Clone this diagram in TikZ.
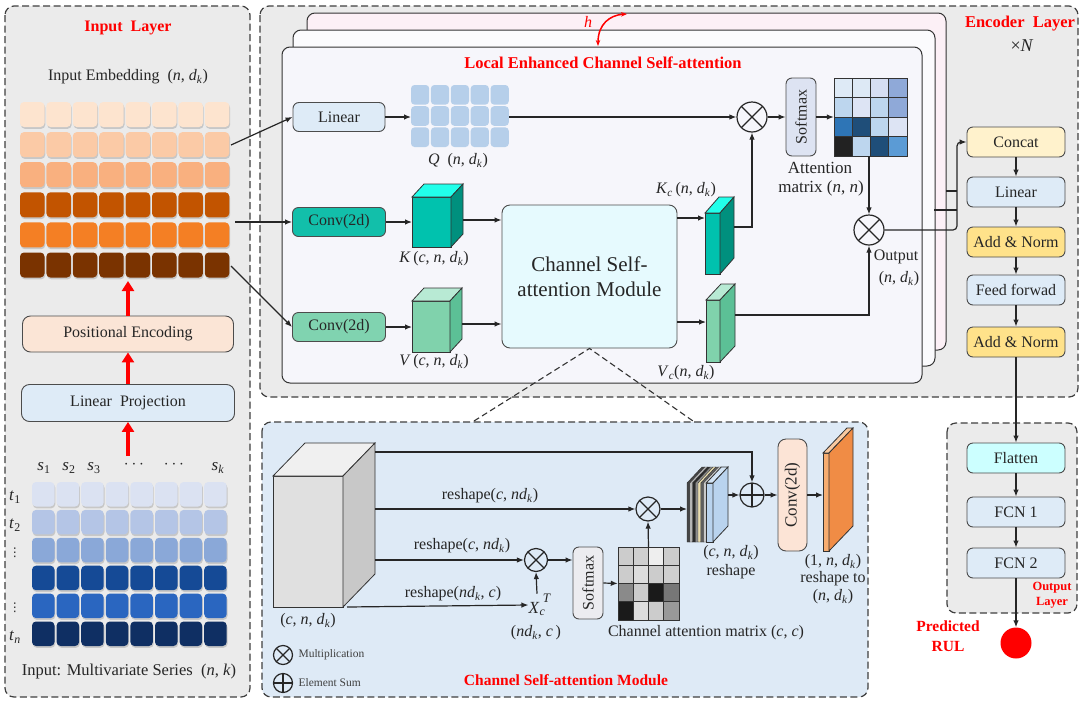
\documentclass[tikz,border=0pt]{standalone}
\usepackage{fontspec}
\usepackage{graphicx}
\setmainfont{Liberation Serif}
\newfontfamily\dejavu{DejaVu Sans}
\usetikzlibrary{arrows.meta,calc}
\definecolor{panelgray}{HTML}{EBEBEB}
\definecolor{csbg}{HTML}{DEEAF6}
\definecolor{lblue}{HTML}{DEEBF7}
\definecolor{peach}{HTML}{FBE5D6}
\definecolor{cream}{HTML}{FFF2CC}
\definecolor{ylw}{HTML}{FFE28A}
\definecolor{cyanbox}{HTML}{CCFFFF}
\definecolor{csamfill}{HTML}{E6FAFE}
\definecolor{convK}{HTML}{12BFAA}
\definecolor{convV}{HTML}{80D3B0}
\definecolor{tealF}{HTML}{00C2AE}
\definecolor{tealT}{HTML}{22FFEA}
\definecolor{tealS}{HTML}{00907E}
\definecolor{mintF}{HTML}{80D2AC}
\definecolor{mintT}{HTML}{B8EAD4}
\definecolor{mintS}{HTML}{5CC096}
\definecolor{grF}{HTML}{E0E0E0}
\definecolor{grT}{HTML}{F0F0F0}
\definecolor{grS}{HTML}{C8C8C8}
\definecolor{orF}{HTML}{F7AD70}
\definecolor{orT}{HTML}{F9C9A0}
\definecolor{orS}{HTML}{F08C45}
\definecolor{bcF}{HTML}{B9D3EE}
\definecolor{bcT}{HTML}{D3E4F5}
\definecolor{convC}{HTML}{FCE4D6}
\definecolor{smx}{HTML}{DDE3F2}
\definecolor{smxb}{HTML}{ECECF0}
\definecolor{qblue}{HTML}{B6CFEA}
\definecolor{sheetback}{HTML}{FCF0F6}
\definecolor{sheetmid}{HTML}{FBFBFD}
\definecolor{sheetfront}{HTML}{F6F6FB}
\definecolor{ce1}{HTML}{FDE4CF}
\definecolor{ce2}{HTML}{FBCAA6}
\definecolor{ce3}{HTML}{F9B07F}
\definecolor{ce4}{HTML}{C25400}
\definecolor{ce5}{HTML}{F47F24}
\definecolor{ce6}{HTML}{7A3300}
\definecolor{cs1}{HTML}{DBE2F2}
\definecolor{cs2}{HTML}{B4C5E6}
\definecolor{cs3}{HTML}{8AA8D8}
\definecolor{cs4}{HTML}{154A96}
\definecolor{cs5}{HTML}{2A66C0}
\definecolor{cs6}{HTML}{0F2F63}
\newcommand{\fsz}[2]{\fontsize{#1}{#2}\selectfont}
\newcommand{\mydk}{\textit{d}\textsubscript{\textit{k}}}
% front top-left (#1,#2), front bottom-right (#3,#4), depth right #5 up #6, colours front/top/side
\newcommand{\drawcube}[9]{%
  \filldraw[fill=#7, draw=black!80, line width=0.8pt] (#1,#2) rectangle (#3,#4);
  \filldraw[fill=#8, draw=black!80, line width=0.8pt] (#1,#2) -- (#1+#5,#2-#6) -- (#3+#5,#2-#6) -- (#3,#2) -- cycle;
  \filldraw[fill=#9, draw=black!80, line width=0.8pt] (#3,#2) -- (#3+#5,#2-#6) -- (#3+#5,#4-#6) -- (#3,#4) -- cycle;
}
\begin{document}
\begin{tikzpicture}[x=1pt,y=-1pt, font=\fsz{16}{19}, text=black!85,
  panel/.style={draw=black!75, line width=1.2pt, dash pattern=on 7pt off 3.5pt, rounded corners=9pt},
  sheet/.style={draw=black!80, line width=1pt, rounded corners=8pt},
  box/.style={draw=black!70, line width=0.9pt, rounded corners=6pt, inner sep=1pt},
  arr/.style={-{Latex[length=7pt,width=5.5pt]}, line width=1.2pt, draw=black!85},
  ln/.style={line width=1.2pt, draw=black!85},
  redarr/.style={-{Triangle[length=10pt,width=12pt]}, line width=3.2pt, draw=red},
  redt/.style={text=red, font=\bfseries\fsz{16}{19}},
  mult/.style={circle, draw=black!85, line width=1.2pt, inner sep=0pt,
    path picture={\draw[line width=1.1pt, black!85] (path picture bounding box.south west) -- (path picture bounding box.north east) (path picture bounding box.north west) -- (path picture bounding box.south east);}},
  plus/.style={circle, draw=black!85, line width=1.2pt, inner sep=0pt,
    path picture={\draw[line width=1.1pt, black!85] (path picture bounding box.south) -- (path picture bounding box.north) (path picture bounding box.west) -- (path picture bounding box.east);}},
  dashln/.style={line width=1.1pt, draw=black!80, dash pattern=on 6pt off 3.5pt}
]
\useasboundingbox (0,0) rectangle (1080,702);
\fill[white] (0,0) rectangle (1080,702);

%% ================= INPUT LAYER =================
\filldraw[panel, fill=panelgray] (5,6) rectangle (250,697);
\node[redt] (tin) at (128,28) {Input\ \ Layer};
\node (emblab) at (128,77) {Input Embedding\ \ (\textit{n}, \mydk)};
\foreach \c [count=\r from 0] in {ce1,ce2,ce3,ce4,ce5,ce6}{
  \foreach \i in {0,...,7}{
    \fill[black, opacity=0.15, rounded corners=4pt] ({20.8+26.4*\i},{103.8+30.1*\r}) rectangle ++(24.5,25);
    \fill[\c, rounded corners=4pt] ({20+26.4*\i},{102+30.1*\r}) rectangle ++(24.5,25);
  }}
\coordinate (emb2) at (231,145);
\coordinate (emb4) at (235,222);
\coordinate (emb6) at (231,266);
\coordinate (embBot) at (128,281);
\node[box, fill=peach, minimum width=211, minimum height=36, rounded corners=8pt] (pos) at (128,334) {Positional Encoding};
\node[box, fill=lblue, minimum width=213, minimum height=37, rounded corners=8pt] (lp) at (128,403) {Linear\ \ Projection};
\coordinate (serTop) at (128,456);
\draw[redarr] (pos.north) -- (embBot);
\draw[redarr] (lp.north) -- (pos.south);
\draw[redarr] (serTop) -- (lp.south);

\begin{scope}[font=\fsz{17}{20}]
\node (s1) at (44,468) {\textit{s}\textsubscript{1}};
\node (s2) at (69,468) {\textit{s}\textsubscript{2}};
\node (s3) at (94,468) {\textit{s}\textsubscript{3}};
\node (sd1) at (134,465) {$\cdots$};
\node (sd2) at (174,465) {$\cdots$};
\node (sk) at (218,468) {\textit{s}\textsubscript{\textit{k}}};
\node[inner sep=0pt] (t1) at (15,497) {\textit{t}\textsubscript{1}};
\node[inner sep=0pt] (t2) at (15,525) {\textit{t}\textsubscript{2}};
\node[inner sep=0pt, font=\dejavu\fsz{12}{13}] (td1) at (15,553) {⋮};
\node[inner sep=0pt, font=\dejavu\fsz{12}{13}] (td2) at (15,608) {⋮};
\node[inner sep=0pt] (tn) at (15,637) {\textit{t}\textsubscript{\textit{n}}};
\end{scope}
\foreach \c [count=\r from 0] in {cs1,cs2,cs3,cs4,cs5,cs6}{
  \foreach \i in {0,...,7}{
    \fill[black, opacity=0.15, rounded corners=4pt] ({32.8+24.6*\i},{483.8+27.9*\r}) rectangle ++(22.5,24.5);
    \fill[\c, rounded corners=4pt] ({32+24.6*\i},{482+27.9*\r}) rectangle ++(22.5,24.5);
  }}
\node[font=\fsz{16.5}{19}] (serlab) at (129,672) {Input: Multivariate Series\ \ (\textit{n}, \textit{k})};

%% ================= ENCODER LAYER =================
\filldraw[panel, fill=panelgray] (260,6) rectangle (1078,397);
\node[redt, font=\bfseries\fsz{16.5}{19}] (tenc) at (1020,24) {Encoder\ \ Layer};
\node[font=\fsz{18}{20}] (tN) at (1022,46) {×\textit{N}};

\filldraw[sheet, fill=sheetback] (307,13) rectangle (946,350);
\filldraw[sheet, fill=sheetmid] (293,30) rectangle (935,366);
\filldraw[sheet, fill=sheetfront] (282,47) rectangle (922,383);

\node[text=red, font=\itshape\fsz{16}{18}] (hl) at (588,22) {h};
\coordinate (hA) at (598,46);
\coordinate (hB) at (627,14);
\draw[red, line width=1.5pt, {Stealth[length=6pt]}-{Stealth[length=6pt]}] (hA) .. controls (598,24) and (610,15) .. (hB);

\node[redt, font=\bfseries\fsz{16.5}{19}] (tlec) at (603,63) {Local Enhanced Channel Self-attention};

\node[box, fill=lblue, minimum width=92, minimum height=29] (lin1) at (339,117) {Linear};
\foreach \r in {0,1,2}{
  \foreach \i in {0,...,4}{
    \fill[qblue, rounded corners=3.5pt] ({411+19.9*\i},{85+21.2*\r}) rectangle ++(18.2,19.6);
  }}
\coordinate (qL) at (411,117);
\coordinate (qR) at (509,117);
\node (qlab) at (458,161) {\textit{Q}\ \ (\textit{n}, \mydk)};

\node[mult, minimum size=30] (m1) at (752,117) {};
\node[box, fill=smx, minimum width=30, minimum height=78, font=\fsz{16}{18}] (smx1) at (801,117) {\rotatebox{90}{Softmax}};
\node[minimum width=73, minimum height=78, inner sep=0pt] (att) at (870.5,117) {};
\foreach \col [count=\k from 0] in {DEEAF6,DDE9F5,D6DEF2,8FA9D8,BDD6EE,DDE4F4,BDD6EE,8FA9D8,2E75B6,1F4E79,BDD6EE,DDE4F4,222222,BDD6EE,1F4E79,5B9BD5}{
  \definecolor{tmpc}{HTML}{\col}
  \pgfmathtruncatemacro\rr{div(\k,4)}
  \pgfmathtruncatemacro\cc{mod(\k,4)}
  \filldraw[fill=tmpc, draw=black!80, line width=0.6pt] ({834+18.25*\cc},{78+19.5*\rr}) rectangle ++(18.25,19.5);
}
\node[font=\fsz{17}{19}] (attl1) at (820,168) {Attention};
\node[font=\fsz{17}{19}] (attl2) at (821,188) {matrix (\textit{n}, \textit{n})};

\draw[arr] (emb2) -- (lin1.west);
\draw[arr] (lin1.east) -- (qL);
\draw[arr] (qR) -- (m1.west);
\draw[arr] (m1.east) -- (smx1.west);
\draw[arr] (smx1.east) -- (att.west);

\node[mult, minimum size=30] (m2) at (869,230) {};
\draw[arr] (att.south -| m2) -- (m2.north);

\node[box, fill=convK, minimum width=93, minimum height=29] (conv1) at (339,222) {Conv(2d)};
\node[box, fill=convV, minimum width=93, minimum height=29] (conv2) at (339,327) {Conv(2d)};
\drawcube{412}{197}{451}{247}{12}{13}{tealF}{tealT}{tealS}
\drawcube{412}{301}{450}{352}{12}{13}{mintF}{mintT}{mintS}
\coordinate (kL) at (412,222);
\coordinate (kR) at (463,220);
\coordinate (vL) at (412,327);
\coordinate (vR) at (462,324);
\node (klab) at (434,259) {\textit{K}\,(\textit{c}, \textit{n}, \mydk)};
\node (vlab) at (434,362) {\textit{V}\,(\textit{c}, \textit{n}, \mydk)};
\draw[arr] (emb4) -- (conv1.west);
\draw[arr] (emb6) -- (conv2.west);
\draw[arr] (conv1.east) -- (kL);
\draw[arr] (conv2.east) -- (vL);

\node[box, fill=csamfill, minimum width=175, minimum height=143, rounded corners=8pt, align=center, font=\fsz{21}{25}] (csam) at (589.5,276.5) {Channel Self-\\attention Module};
\draw[arr] (kR) -- (kR -| csam.west);
\draw[arr] (vR) -- (vR -| csam.west);

\drawcube{705}{213}{720}{274}{14}{16}{tealF}{tealT}{tealS}
\drawcube{706}{300}{720}{362}{15}{16}{mintF}{mintT}{mintS}
\coordinate (kcL) at (705,218);
\coordinate (vcL) at (706,322);
\coordinate (kcR) at (734,227);
\coordinate (vcR) at (735,315);
\draw[arr] (csam.east |- kcL) -- (kcL);
\draw[arr] (csam.east |- vcL) -- (vcL);
\node (kclab) at (686,190) {\textit{K}\textsubscript{\textit{c}}\,(\textit{n}, \mydk)};
\node (vclab) at (686,373) {\textit{V}\textsubscript{\textit{c}}(\textit{n}, \mydk)};
\draw[arr] (kcR) -| (m1.south);
\draw[arr] (vcR) -| (m2.south);
\node (outl1) at (896,257) {Output};
\node (outl2) at (899,279) {(\textit{n}, \mydk)};

% right column
\node[box, fill=cream, minimum width=98, minimum height=30] (concat) at (1016,142) {Concat};
\node[box, fill=lblue, minimum width=98, minimum height=30] (lin2) at (1016,192) {Linear};
\node[box, fill=ylw, minimum width=98, minimum height=30] (an1) at (1016,242) {Add \& Norm};
\node[box, fill=lblue, minimum width=98, minimum height=30] (ff) at (1016,290) {Feed forwad};
\node[box, fill=ylw, minimum width=98, minimum height=30] (an2) at (1016,342) {Add \& Norm};
\coordinate (jx) at (957,142);
\draw[arr, rounded corners=4pt] (m2.east) -| (jx) -- (concat.west);
\coordinate (hb1) at (946,191);
\coordinate (hb2) at (934,210);
\draw[ln] (hb1) -- (hb1 -| jx);
\draw[ln] (hb2) -- (hb2 -| jx);
\draw[arr] (concat.south) -- (lin2.north);
\draw[arr] (lin2.south) -- (an1.north);
\draw[arr] (an1.south) -- (ff.north);
\draw[arr] (ff.south) -- (an2.north);

%% ================= OUTPUT LAYER =================
\filldraw[panel, fill=panelgray] (947,423) rectangle (1077,613);
\node[box, fill=cyanbox, minimum width=98, minimum height=30] (flat) at (1016,458) {Flatten};
\node[box, fill=lblue, minimum width=98, minimum height=30] (fcn1) at (1016,512) {FCN 1};
\node[box, fill=lblue, minimum width=98, minimum height=30] (fcn2) at (1016,563) {FCN 2};
\draw[arr] (an2.south) -- (flat.north);
\draw[arr] (flat.south) -- (fcn1.north);
\draw[arr] (fcn1.south) -- (fcn2.north);
\node[redt, font=\bfseries\fsz{12.5}{15}, align=center] (tout) at (1052,595) {Output\\Layer};
\node[circle, fill=red, minimum size=31, inner sep=0pt] (rul) at (1016,643) {};
\draw[arr] (fcn2.south) -- (rul.north);
\node[redt, font=\bfseries\fsz{15.5}{20}, align=center] (trul) at (948,636) {Predicted\\RUL};

%% ================= CHANNEL SELF-ATTENTION MODULE =================
\filldraw[panel, fill=csbg] (262,422) rectangle (868,697);
\coordinate (dl) at (474,421);
\coordinate (dr) at (693,421);
\draw[dashln] (dl) -- (csam.south) -- (dr);

\drawcube{273}{476}{343}{607}{32}{33}{grF}{grT}{grS}
\node (cublab) at (308,621) {(\textit{c}, \textit{n}, \mydk)};
\coordinate (c1) at (375,452);
\coordinate (c2) at (375,509);
\coordinate (c3) at (375,560);
\coordinate (c4) at (347,607);

\node[plus, minimum size=24] (p1) at (752,495) {};
\node[mult, minimum size=24] (m3) at (648,509) {};
\node[mult, minimum size=23] (m4) at (536,560) {};
\node[inner sep=0pt, font=\fsz{17}{18}] (xct) at (537,605) {\textit{X}\makebox[0pt][l]{\raisebox{1.4ex}{\fsz{13}{14}\ \textit{T}}}\textsubscript{\textit{c}}};

\draw[arr] (c1) -| (p1.north);
\draw[arr] (c2) -- (m3.west);
\node (rs1) at (490,496) {reshape(\textit{c}, \textit{n}\mydk)};
\draw[arr] (c3) -- (m4.west);
\node (rs2) at (462,546) {reshape(\textit{c}, \textit{n}\mydk)};
\draw[arr] (c4) -- (xct.west);
\node (rs3) at (453,594) {reshape(\textit{n}\mydk, \textit{c})};
\draw[arr] (xct.north) -- (m4.south);
\node (ndc) at (536,633) {(\textit{n}\mydk, \textit{c}\,)};

\node[box, fill=smxb, minimum width=30, minimum height=72, font=\fsz{16}{18}] (smx2) at (588,583) {\rotatebox{90}{Softmax}};
\draw[arr] (m4.east) -- (m4.east -| smx2.west);
\node[minimum width=61, minimum height=73, inner sep=0pt] (cam) at (648.5,583.5) {};
\foreach \col [count=\k from 0] in {CCCCCC,CFCFCF,EEEEEE,CCCCCC,CCCCCC,DDDDDD,CCCCCC,CFCFCF,8A8A8A,CCCCCC,1A1A1A,777777,1A1A1A,DDDDDD,CCCCCC,999999}{
  \definecolor{tmpc}{HTML}{\col}
  \pgfmathtruncatemacro\rr{div(\k,4)}
  \pgfmathtruncatemacro\cc{mod(\k,4)}
  \filldraw[fill=tmpc, draw=black!80, line width=0.6pt] ({618+15.25*\cc},{547+18.25*\rr}) rectangle ++(15.25,18.25);
}
\draw[arr] (smx2.east) -- (cam.west);
\draw[arr] (cam.north) -- (m3.south);
\node (camlab) at (706,633) {Channel attention matrix (\textit{c}, \textit{c})};

% stack of channel slices
\foreach \col [count=\k from 0] in {454545,B5B5B5,2A2A2A,8C8C8C,E9DDB0,5E5E5E,C9C9C9}{
  \definecolor{tmpc}{HTML}{\col}
  \pgfmathsetmacro\a{687+2.75*\k}
  \filldraw[fill=tmpc, draw=black!80, line width=0.4pt] (\a,542) -- (\a,483) -- (\a+15,467) -- (\a+17.75,467) -- (\a+17.75,526) -- (\a+2.75,542) -- cycle;
}
\drawcube{706.25}{483}{713}{542}{15}{16}{bcF}{bcT}{bcF}
\coordinate (stL) at (687,509);
\coordinate (stR) at (728,495);
\draw[arr] (m3.east) -- (stL);
\draw[arr] (stR) -- (p1.west);
\node (stl1) at (731,553) {(\textit{c}, \textit{n}, \mydk)};
\node (stl2) at (731,572) {reshape};

\node[box, fill=convC, minimum width=29, minimum height=112, rounded corners=8pt, font=\fsz{17}{19}] (conv3) at (792.5,495) {\rotatebox{90}{Conv(2d)}};
\draw[arr] (p1.east) -- (conv3.west);
\drawcube{823}{453}{829}{551}{24}{25}{orF}{orT}{orS}
\coordinate (oL) at (823,495);
\draw[arr] (conv3.east) -- (oL);
\node (ol1) at (833,562) {(1, \textit{n}, \mydk)};
\node (ol2) at (833,579) {reshape to};
\node (ol3) at (833,597) {(\textit{n}, \mydk)};

% legend
\node[mult, minimum size=19] (lgm) at (283,655) {};
\node[plus, minimum size=19] (lgp) at (283,683) {};
\node[anchor=west, font=\fsz{11.5}{13}, text=black!75] (lgmt) at (295,655) {Multiplication};
\node[anchor=west, font=\fsz{11.5}{13}, text=black!75] (lgpt) at (295,683) {Element Sum};
\node[redt, font=\bfseries\fsz{15.5}{18}] (tcsam) at (566,680) {Channel Self-attention Module};
\end{tikzpicture}
\end{document}
